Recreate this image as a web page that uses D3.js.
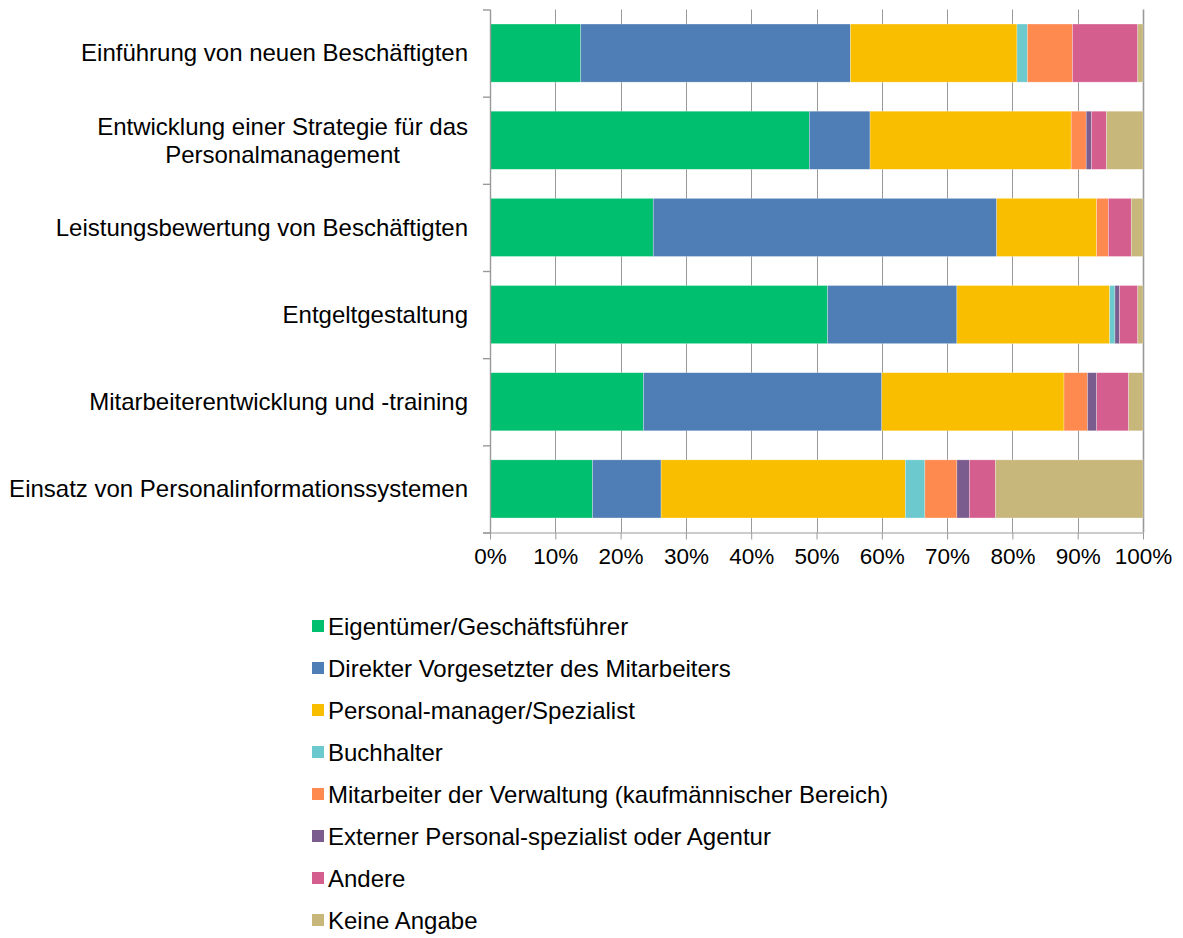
<!DOCTYPE html>
<html>
<head>
<meta charset="utf-8">
<script src="https://cdnjs.cloudflare.com/ajax/libs/d3/7.8.5/d3.min.js"></script>
<style>
  body { margin: 0; background: #fff; }
  svg { font-family: "Liberation Sans", Arial, sans-serif; }
  .tick text { font-size: 22.5px; fill: #000; }
  .cat-label { font-size: 24px; fill: #000; }
  .legend text { font-size: 24px; fill: #000; }
</style>
</head>
<body>
<svg width="1183" height="938"></svg>
<script>
'use strict';

// categories, top to bottom ("\n" = line break in the label)
const categories = [
  'Einführung von neuen Beschäftigten',
  'Entwicklung einer Strategie für das\nPersonalmanagement',
  'Leistungsbewertung von Beschäftigten',
  'Entgeltgestaltung',
  'Mitarbeiterentwicklung und -training',
  'Einsatz von Personalinformationssystemen'
];

const seriesNames = [
  'Eigentümer/Geschäftsführer',
  'Direkter Vorgesetzter des Mitarbeiters',
  'Personal-manager/Spezialist',
  'Buchhalter',
  'Mitarbeiter der Verwaltung (kaufmännischer Bereich)',
  'Externer Personal-spezialist oder Agentur',
  'Andere',
  'Keine Angabe'
];

// shares in %, one value per category (same order as categories)
const eigentuemer   = [13.9, 48.9, 25.0, 51.7, 23.5, 15.7];
const vorgesetzter  = [41.3,  9.3, 52.6, 19.8, 36.5, 10.5];
const personalMgr   = [25.5, 30.8, 15.3, 23.4, 27.9, 37.4];
const buchhalter    = [ 1.6,  0.0,  0.0,  0.8,  0.0,  3.0];
const verwaltung    = [ 6.9,  2.3,  1.8,  0.0,  3.6,  4.9];
const extern        = [ 0.0,  0.8,  0.0,  0.7,  1.4,  1.9];
const andere        = [10.0,  2.3,  3.5,  2.8,  4.9,  4.0];
const keineAngabe   = [ 0.8,  5.6,  1.8,  0.8,  2.2, 22.6];

const seriesValues = [eigentuemer, vorgesetzter, personalMgr, buchhalter,
                      verwaltung, extern, andere, keineAngabe];

const colors = ['#00bf6f', '#4f7db5', '#f9be00', '#6cc9cd',
                '#ff8a4f', '#7b5c8e', '#d45f8f', '#c8b77a'];

const xTicks = [0, 0.1, 0.2, 0.3, 0.4, 0.5, 0.6, 0.7, 0.8, 0.9, 1];

(function (d3) {
  const svg = d3.select('svg');

  const margin = { top: 9.5, left: 490, right: 40 };
  const plotRight = 1143;
  const plotBottom = 532.5;
  const innerWidth = plotRight - margin.left;
  const innerHeight = plotBottom - margin.top;

  // table built from the arrays
  const table = categories.map((c, i) => {
    const row = { category: c };
    seriesNames.forEach((s, j) => { row[s] = seriesValues[j][i]; });
    return row;
  });

  const stacked = d3.stack()
    .keys(seriesNames)
    .offset(d3.stackOffsetExpand)(table);

  const xScale = d3.scaleLinear().domain([0, 1]).range([0, innerWidth]);

  const yScale = d3.scaleBand()
    .domain(categories)
    .range([0, innerHeight])
    .paddingInner(1 / 3)
    .paddingOuter(1 / 6);

  const g = svg.append('g')
    .attr('transform', `translate(${margin.left},${margin.top})`);

  // vertical grid lines
  g.append('g')
    .selectAll('line')
    .data(xTicks)
    .enter().append('line')
      .attr('x1', d => Math.round(xScale(d)) + 0.5)
      .attr('x2', d => Math.round(xScale(d)) + 0.5)
      .attr('y1', 0)
      .attr('y2', innerHeight)
      .attr('stroke', '#999999')
      .attr('stroke-width', d => d === 1 ? 1.6 : 1);

  // stacked bars
  g.append('g')
    .selectAll('g')
    .data(stacked)
    .enter().append('g')
      .attr('fill', (d, i) => colors[i])
    .selectAll('rect')
    .data(d => d)
    .enter().append('rect')
      .attr('x', d => xScale(d[0]))
      .attr('width', d => Math.max(0, xScale(d[1]) - xScale(d[0])))
      .attr('y', d => yScale(d.data.category))
      .attr('height', yScale.bandwidth())
      .attr('stroke', '#ffffff')
      .attr('stroke-opacity', 0.45)
      .attr('stroke-width', 0.6);

  // x axis
  const xAxis = d3.axisBottom(xScale)
    .tickValues(xTicks)
    .tickFormat(d3.format('.0%'))
    .tickSize(7)
    .tickPadding(8)
    .tickSizeOuter(0);

  const xAxisG = g.append('g')
    .attr('transform', `translate(0,${innerHeight})`)
    .call(xAxis);
  xAxisG.selectAll('.domain, line').attr('stroke', '#999999');
  xAxisG.select('.domain')
    .attr('d', `M-7,0.5H${innerWidth}`);
  xAxisG.selectAll('text').attr('dy', '0.72em');

  // y axis: ticks at band boundaries
  const boundaryScale = d3.scaleLinear().domain([0, categories.length]).range([0, innerHeight]);
  const yAxis = d3.axisLeft(boundaryScale)
    .tickValues(d3.range(categories.length + 1))
    .tickFormat('')
    .tickSize(7)
    .tickSizeOuter(0);
  const yAxisG = g.append('g').call(yAxis);
  yAxisG.selectAll('.domain, line').attr('stroke', '#999999').attr('stroke-width', 1.4);

  // category labels (right edge at 22px left of the axis, lines centred)
  const labelRight = -22;
  const lineHeight = 28;
  categories.forEach(c => {
    const lines = c.split('\n');
    const cy = yScale(c) + yScale.bandwidth() / 2;
    const t = g.append('text')
      .attr('class', 'cat-label')
      .attr('text-anchor', 'middle');
    lines.forEach((line, k) => {
      t.append('tspan')
        .attr('x', 0)
        .attr('y', cy + (k - (lines.length - 1) / 2) * lineHeight)
        .attr('dy', '0.35em')
        .text(line);
    });
    const w = t.node().getBBox().width;
    t.attr('transform', `translate(${labelRight - w / 2},0)`);
  });

  // legend
  const legend = svg.append('g')
    .attr('class', 'legend')
    .attr('transform', 'translate(312,627)');

  const items = legend.selectAll('g')
    .data(seriesNames)
    .enter().append('g')
      .attr('transform', (d, i) => `translate(0,${i * 42})`);

  items.append('rect')
    .attr('x', 0)
    .attr('y', -7)
    .attr('width', 12)
    .attr('height', 12)
    .attr('fill', (d, i) => colors[i]);

  items.append('text')
    .attr('x', 16)
    .attr('y', 0)
    .attr('dy', '0.35em')
    .text(d => d);

}(d3));
</script>
</body>
</html>
